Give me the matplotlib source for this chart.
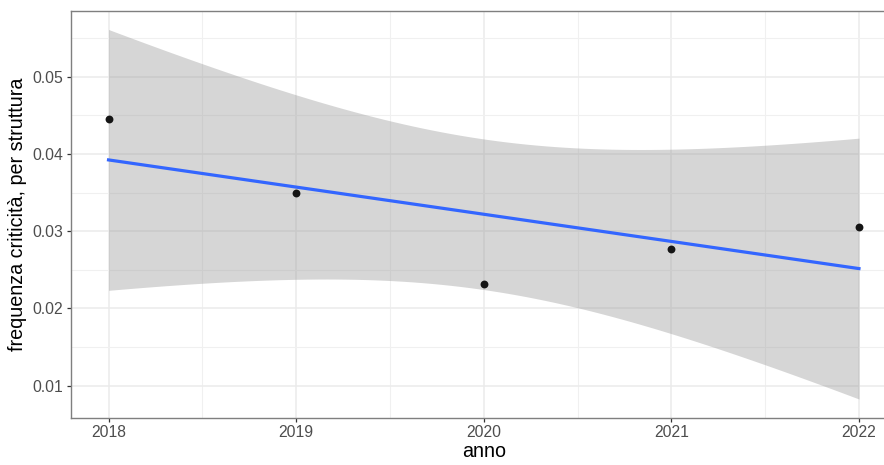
import numpy as np
import matplotlib
matplotlib.use("Agg")
import matplotlib.pyplot as plt
from matplotlib.ticker import MultipleLocator, FixedLocator

anni = [2018, 2019, 2020, 2021, 2022]
frequenza = [0.0446, 0.0349, 0.0232, 0.0277, 0.0306]
x_ticks = [2018, 2019, 2020, 2021, 2022]
x_labels = ["2018", "2019", "2020", "2021", "2022"]
y_ticks = [0.01, 0.02, 0.03, 0.04, 0.05]
y_labels = ["0.01", "0.02", "0.03", "0.04", "0.05"]

plt.rcParams['font.family'] = ['Liberation Sans', 'DejaVu Sans']

x = np.array(anni, dtype=float)
y = np.array(frequenza)
n = len(x)
slope, intercept = np.polyfit(x, y, 1)
xs = np.linspace(x.min(), x.max(), 80)
fit = intercept + slope * xs
resid = y - (intercept + slope * x)
s = np.sqrt(np.sum(resid**2) / (n - 2))
sxx = np.sum((x - x.mean())**2)
tval = 3.182446305284263  # t(0.975, df=3)
se = s * np.sqrt(1.0 / n + (xs - x.mean())**2 / sxx)
lo = fit - tval * se
hi = fit + tval * se

W, H = 884, 465
fig = plt.figure(figsize=(W / 100, H / 100), dpi=100)
left, right, top, bottom = 71, 896.5, 11, 417.5
ax = fig.add_axes([left / W, (H - bottom) / H, (right - left) / W, (bottom - top) / H])

ax.fill_between(xs, lo, hi, color='#999999', alpha=0.4, linewidth=0, zorder=2)
ax.plot(xs, fit, color='#3366FF', linewidth=2.3, zorder=3)
ax.scatter(x, y, s=32, color='#151515', zorder=4, linewidths=0)

xr = x.max() - x.min()
ax.set_xlim(x.min() - 0.05 * xr, x.max() + 0.05 * xr)
ymin = min(lo.min(), y.min()); ymax = max(hi.max(), y.max())
yr = ymax - ymin
ax.set_ylim(ymin - 0.05 * yr, ymax + 0.05 * yr)

ax.xaxis.set_major_locator(FixedLocator(x_ticks))
ax.set_xticklabels(x_labels)
ax.xaxis.set_minor_locator(MultipleLocator(0.5))
ax.yaxis.set_major_locator(FixedLocator(y_ticks))
ax.set_yticklabels(y_labels)
ax.yaxis.set_minor_locator(MultipleLocator(0.005))

ax.grid(True, which='major', color='#EBEBEB', linewidth=1.1, zorder=0)
ax.grid(True, which='minor', color='#F0F0F0', linewidth=0.8, zorder=0)
ax.set_axisbelow(True)

for side in ['left', 'bottom', 'top', 'right']:
    ax.spines[side].set_color('#7F7F7F')
    ax.spines[side].set_linewidth(1.0)
ax.tick_params(which='major', length=3.0, width=0.9, color='#333333',
               labelcolor='#4D4D4D', labelsize=11.3, pad=2.5)
ax.tick_params(which='minor', length=0)

ax.set_xlabel('anno', fontsize=14.2, color='black', labelpad=1)
ax.set_ylabel('frequenza criticità, per struttura', fontsize=14.2, color='black', labelpad=4)

fig.savefig('out.png', dpi=100)
